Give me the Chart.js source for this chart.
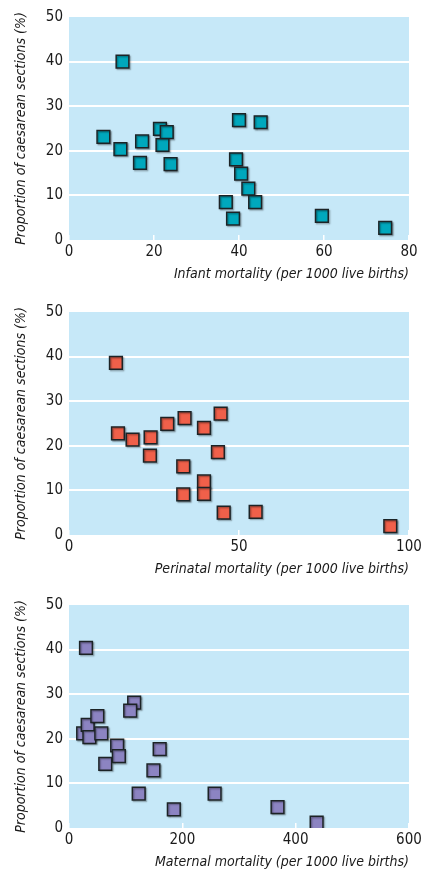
<!DOCTYPE html>
<html>
<head>
<meta charset="utf-8">
<script src="https://cdn.jsdelivr.net/npm/chart.js@4.4.0/dist/chart.umd.min.js"></script>
<style>
  html, body { margin: 0; padding: 0; background: #fff; overflow: hidden; }
  body { width: 422px; height: 869px; position: relative; }
  .panel { position: absolute; left: 0; width: 422px; height: 290px; }
</style>
</head>
<body>
<div class="panel" style="top:0px"><canvas id="infant-chart"></canvas></div>
<div class="panel" style="top:295px"><canvas id="perinatal-chart"></canvas></div>
<div class="panel" style="top:588px"><canvas id="maternal-chart"></canvas></div>
<script>
// data
const infantX = [12.6, 8.1, 12.1, 16.7, 17.2, 21.4, 23.0, 22.0, 23.9, 40.0, 45.1, 39.3, 40.5, 42.2, 36.9, 43.8, 38.6, 59.5, 74.4];
const infantY = [40.0, 23.1, 20.4, 17.3, 22.1, 24.9, 24.2, 21.3, 17.0, 26.9, 26.4, 18.1, 14.9, 11.5, 8.5, 8.5, 4.8, 5.4, 2.7];

const perinatalX = [13.8, 14.4, 18.7, 24.0, 23.8, 28.9, 34.0, 39.7, 44.6, 43.8, 33.6, 39.7, 39.7, 33.6, 45.5, 54.9, 94.5];
const perinatalY = [38.6, 22.8, 21.4, 21.9, 17.8, 24.9, 26.2, 24.0, 27.2, 18.6, 15.4, 12.0, 9.2, 9.1, 5.0, 5.2, 2.0];

const maternalX = [30, 25, 33, 36, 50, 57, 64, 85, 88, 115, 108, 160, 149, 123, 185, 257, 368, 437];
const maternalY = [40.4, 21.2, 23.1, 20.4, 25.1, 21.2, 14.4, 18.5, 16.1, 28.1, 26.3, 17.7, 12.9, 7.7, 4.2, 7.7, 4.7, 1.2];

const yTicks = [0, 10, 20, 30, 40, 50];
const yTitle = 'Proportion of caesarean sections (%)';

const FONT = "'DejaVu Sans Condensed', 'Liberation Sans Narrow', sans-serif";

// plot background
const plotBg = {
    id: 'plotBg',
    beforeDraw(chart) {
        const {ctx, chartArea: a} = chart;
        ctx.save();
        ctx.fillStyle = '#c6e8f8';
        ctx.fillRect(a.left, a.top, a.right - a.left, a.bottom - a.top);
        ctx.restore();
    }
};

// soft shadow under the squares
const markerShadow = {
    id: 'markerShadow',
    beforeDatasetsDraw(chart) {
        const ctx = chart.ctx;
        ctx.save();
        ctx.shadowColor = 'rgba(0,0,0,0.35)';
        ctx.shadowBlur = 1.5;
        ctx.shadowOffsetX = 1.2;
        ctx.shadowOffsetY = 1.2;
    },
    afterDatasetsDraw(chart) {
        chart.ctx.restore();
    }
};

function makeScatter(id, xs, ys, color, xMax, xStep, xTitle) {
    const points = xs.map((x, i) => ({x: x, y: ys[i]}));
    return new Chart(document.getElementById(id), {
        type: 'scatter',
        data: {
            datasets: [{
                data: points,
                pointStyle: 'rect',
                pointRadius: 9,
                pointHoverRadius: 9,
                backgroundColor: color,
                borderColor: '#1c2326',
                borderWidth: 1.5
            }]
        },
        options: {
            responsive: true,
            maintainAspectRatio: false,
            animation: false,
            events: [],
            layout: { padding: { top: 17, right: 13, left: 0, bottom: 0 } },
            plugins: { legend: { display: false }, tooltip: { enabled: false } },
            scales: {
                x: {
                    type: 'linear',
                    min: 0,
                    max: xMax,
                    border: { display: false },
                    grid: {
                        drawOnChartArea: false,
                        drawTicks: true,
                        tickLength: -5,
                        color: '#ffffff',
                        lineWidth: 1.5
                    },
                    ticks: {
                        stepSize: xStep,
                        padding: 8,
                        color: '#1a1a1a',
                        font: { family: FONT, size: 15 },
                        maxRotation: 0
                    },
                    title: {
                        display: true,
                        text: xTitle,
                        align: 'end',
                        color: '#1a1a1a',
                        font: { family: FONT, size: 14, style: 'italic' },
                        padding: { top: 0, bottom: 7 }
                    },
                    afterFit(scale) {
                        scale.height = 50;
                        scale.paddingLeft = 0;
                        scale.paddingRight = 0;
                    }
                },
                y: {
                    type: 'linear',
                    min: 0,
                    max: 50,
                    border: { display: false },
                    afterBuildTicks(scale) { scale.ticks = yTicks.map(v => ({value: v})); },
                    grid: {
                        drawTicks: false,
                        lineWidth: 2,
                        color: ctx => (ctx.tick && (ctx.tick.value === 0 || ctx.tick.value === 50)) ? 'rgba(0,0,0,0)' : '#ffffff'
                    },
                    ticks: {
                        padding: 6,
                        color: '#1a1a1a',
                        font: { family: FONT, size: 15 }
                    },
                    title: {
                        display: true,
                        text: yTitle,
                        color: '#1a1a1a',
                        font: { family: FONT, size: 14, style: 'italic' },
                        padding: { top: 13, bottom: 0 }
                    },
                    afterFit(scale) {
                        scale.width = 69;
                        scale.paddingTop = 0;
                        scale.paddingBottom = 0;
                    }
                }
            }
        },
        plugins: [plotBg, markerShadow]
    });
}

makeScatter('infant-chart', infantX, infantY, '#00a8bd', 80, 20, 'Infant mortality (per 1000 live births)');
makeScatter('perinatal-chart', perinatalX, perinatalY, '#f0604a', 100, 50, 'Perinatal mortality (per 1000 live births)');
makeScatter('maternal-chart', maternalX, maternalY, '#8c84c2', 600, 200, 'Maternal mortality (per 1000 live births)');
</script>
</body>
</html>
